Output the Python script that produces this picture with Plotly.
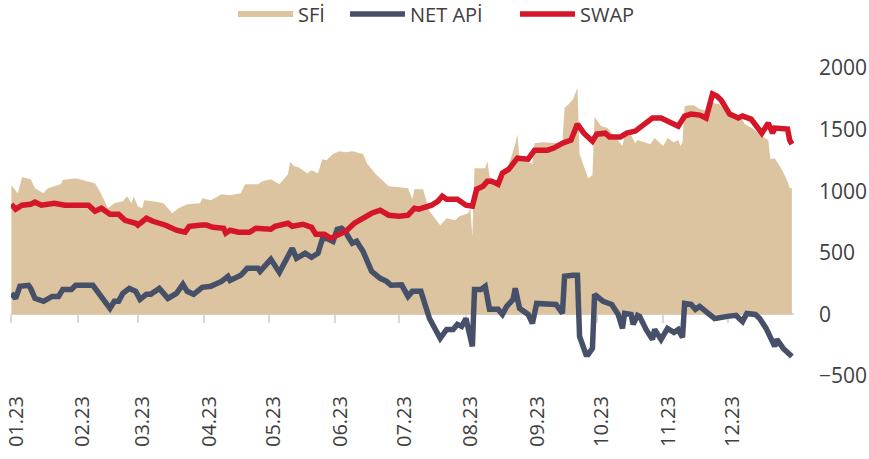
import plotly.graph_objects as go

sfi_dates = ["2023-01-01","2023-01-04","2023-01-06","2023-01-10","2023-01-12","2023-01-16","2023-01-18","2023-01-24","2023-01-25","2023-01-31",
             "2023-02-09","2023-02-12","2023-02-15","2023-02-18","2023-02-22","2023-02-24","2023-02-26","2023-02-27","2023-03-01","2023-03-03",
             "2023-03-04","2023-03-08","2023-03-13","2023-03-17","2023-03-20","2023-03-24","2023-03-30","2023-03-31","2023-04-04","2023-04-09",
             "2023-04-13","2023-04-18","2023-04-20","2023-04-26","2023-04-28","2023-05-02","2023-05-06","2023-05-10","2023-05-11","2023-05-13",
             "2023-05-15","2023-05-19","2023-05-21","2023-05-24","2023-05-26","2023-05-28","2023-05-31","2023-06-03","2023-06-06","2023-06-09",
             "2023-06-14","2023-06-16","2023-06-20","2023-06-26","2023-07-01","2023-07-05","2023-07-07","2023-07-08","2023-07-12","2023-07-15",
             "2023-07-20","2023-07-23","2023-07-27","2023-07-29","2023-08-02","2023-08-03","2023-08-04","2023-08-05","2023-08-10","2023-08-11",
             "2023-08-12","2023-08-15","2023-08-20","2023-08-24","2023-08-25","2023-08-26","2023-09-01","2023-09-02","2023-09-06","2023-09-13",
             "2023-09-15","2023-09-16","2023-09-18","2023-09-20","2023-09-22","2023-09-23","2023-09-27","2023-09-29","2023-09-30","2023-10-03",
             "2023-10-06","2023-10-10","2023-10-13","2023-10-14","2023-10-17","2023-10-19","2023-10-20","2023-10-26","2023-10-28","2023-11-01",
             "2023-11-03","2023-11-06","2023-11-08","2023-11-09","2023-11-10","2023-11-11","2023-11-15","2023-11-18","2023-11-21","2023-11-24",
             "2023-11-27","2023-12-01","2023-12-04","2023-12-08","2023-12-09","2023-12-13","2023-12-17","2023-12-20","2023-12-21","2023-12-23",
             "2023-12-26","2023-12-29","2023-12-30","2023-12-31"]
sfi_values = [1049,984,1114,1098,1024,984,1024,1057,1090,1106,
              1065,976,862,902,919,959,902,959,878,862,
              927,919,902,821,862,894,902,943,927,976,
              968,984,1057,1057,1081,1098,1057,1138,1236,1203,
              1195,1146,1171,1146,1260,1252,1301,1325,1317,1325,
              1301,1220,1138,1041,1033,1024,935,1016,1016,837,
              724,780,764,797,821,862,634,1187,1187,1244,
              1122,1065,1163,1382,1463,1268,1220,1390,1398,1390,
              1398,1675,1707,1748,1837,1301,1106,1130,1602,1529,
              1512,1431,1366,1447,1455,1390,1415,1382,1431,1366,
              1431,1398,1415,1366,1398,1691,1699,1667,1650,1715,
              1707,1634,1585,1577,1545,1504,1447,1415,1260,1268,
              1187,1081,1024,1024]

netapi_dates = ["2023-01-01","2023-01-03","2023-01-05","2023-01-09","2023-01-10","2023-01-12","2023-01-16","2023-01-20","2023-01-23","2023-01-25",
                "2023-01-29","2023-01-31","2023-02-08","2023-02-11","2023-02-14","2023-02-16","2023-02-18","2023-02-20","2023-02-22","2023-02-25",
                "2023-02-28","2023-03-02","2023-03-05","2023-03-07","2023-03-11","2023-03-15","2023-03-19","2023-03-22","2023-03-24","2023-03-27",
                "2023-03-31","2023-04-04","2023-04-09","2023-04-12","2023-04-13","2023-04-18","2023-04-21","2023-04-26","2023-04-27","2023-05-02",
                "2023-05-06","2023-05-10","2023-05-12","2023-05-14","2023-05-18","2023-05-21","2023-05-24","2023-05-26","2023-05-28","2023-05-31",
                "2023-06-02","2023-06-04","2023-06-06","2023-06-07","2023-06-09","2023-06-11","2023-06-14","2023-06-18","2023-06-22","2023-06-25",
                "2023-06-27","2023-07-02","2023-07-05","2023-07-07","2023-07-11","2023-07-15","2023-07-18","2023-07-20","2023-07-23","2023-07-26",
                "2023-07-28","2023-07-30","2023-08-01","2023-08-03","2023-08-04","2023-08-05","2023-08-08","2023-08-10","2023-08-12","2023-08-16",
                "2023-08-18","2023-08-20","2023-08-23","2023-08-24","2023-08-26","2023-08-30","2023-09-01","2023-09-03","2023-09-08","2023-09-12",
                "2023-09-15","2023-09-16","2023-09-20","2023-09-22","2023-09-23","2023-09-26","2023-09-27","2023-09-29","2023-09-30","2023-10-04",
                "2023-10-08","2023-10-11","2023-10-13","2023-10-14","2023-10-17","2023-10-18","2023-10-20","2023-10-21","2023-10-24","2023-10-27",
                "2023-10-28","2023-10-31","2023-11-03","2023-11-06","2023-11-08","2023-11-10","2023-11-11","2023-11-14","2023-11-16","2023-11-18",
                "2023-11-22","2023-11-25","2023-12-01","2023-12-05","2023-12-08","2023-12-10","2023-12-14","2023-12-16","2023-12-19","2023-12-22",
                "2023-12-23","2023-12-24","2023-12-27","2023-12-31"]
netapi_values = [171,130,228,236,211,130,106,146,146,203,
                 203,236,236,163,106,49,106,106,171,211,
                 187,122,163,163,211,130,171,244,187,163,
                 220,228,268,309,276,317,374,374,350,447,
                 341,488,537,455,496,463,496,610,618,593,
                 691,699,667,634,577,593,512,350,293,268,
                 236,240,146,187,187,-33,-138,-195,-122,-122,
                 -81,-98,-33,-220,-260,203,203,228,41,41,
                 0,65,122,211,49,0,-73,89,89,81,
                 8,309,317,317,-179,-325,-325,-276,163,106,
                 81,0,-114,8,0,-81,-8,-16,-122,-203,
                 -122,-203,-114,-146,-122,-187,89,81,41,65,
                 8,-33,-16,-8,-57,8,0,-33,-114,-220,
                 -260,-203,-276,-341]

swap_dates = ["2023-01-01","2023-01-03","2023-01-06","2023-01-10","2023-01-12","2023-01-15","2023-01-21","2023-01-26","2023-02-06","2023-02-09",
              "2023-02-12","2023-02-16","2023-02-20","2023-02-23","2023-02-28","2023-03-01","2023-03-05","2023-03-08","2023-03-14","2023-03-19",
              "2023-03-23","2023-03-25","2023-03-31","2023-04-02","2023-04-05","2023-04-10","2023-04-11","2023-04-13","2023-04-17","2023-04-22",
              "2023-04-25","2023-05-02","2023-05-04","2023-05-10","2023-05-12","2023-05-17","2023-05-21","2023-05-23","2023-05-27","2023-05-30",
              "2023-06-03","2023-06-06","2023-06-10","2023-06-15","2023-06-18","2023-06-22","2023-06-26","2023-07-01","2023-07-05","2023-07-08",
              "2023-07-10","2023-07-16","2023-07-19","2023-07-21","2023-07-23","2023-07-28","2023-08-01","2023-08-04","2023-08-06","2023-08-09",
              "2023-08-11","2023-08-13","2023-08-16","2023-08-18","2023-08-21","2023-08-25","2023-08-27","2023-08-30","2023-09-02","2023-09-08",
              "2023-09-11","2023-09-15","2023-09-19","2023-09-22","2023-09-25","2023-09-29","2023-10-01","2023-10-05","2023-10-07","2023-10-12",
              "2023-10-15","2023-10-19","2023-10-22","2023-10-27","2023-10-31","2023-11-08","2023-11-11","2023-11-14","2023-11-18","2023-11-21",
              "2023-11-24","2023-11-26","2023-11-28","2023-12-02","2023-12-06","2023-12-08","2023-12-12","2023-12-17","2023-12-20","2023-12-22",
              "2023-12-23","2023-12-29","2023-12-30","2023-12-31"]
swap_values = [894,854,886,894,911,886,902,886,886,837,
               862,813,813,764,740,724,780,756,724,683,
               667,715,725,725,707,699,659,683,667,667,
               699,691,715,740,715,732,707,650,650,618,
               650,675,740,797,821,846,805,797,805,862,
               854,886,919,959,935,935,886,878,1016,1041,
               1081,1081,1057,1146,1179,1268,1268,1260,1333,1333,
               1350,1390,1415,1545,1471,1406,1463,1471,1439,1439,
               1471,1488,1528,1594,1594,1528,1610,1626,1618,1594,
               1789,1772,1740,1626,1594,1610,1585,1471,1553,1471,
               1512,1504,1415,1382]

month_ticks = ["2023-01-01","2023-02-01","2023-03-01","2023-04-01","2023-05-01","2023-06-01",
               "2023-07-01","2023-08-01","2023-09-01","2023-10-01","2023-11-01","2023-12-01"]
month_labels = ["01.23","02.23","03.23","04.23","05.23","06.23",
                "07.23","08.23","09.23","10.23","11.23","12.23"]
y_ticks = [-500, 0, 500, 1000, 1500, 2000]

FONT = "Open Sans"
TXT = "#404040"

fig = go.Figure()
fig.add_trace(go.Scatter(x=sfi_dates, y=sfi_values, name="SFİ", mode="none",
                         fill="tozeroy", fillcolor="#DBC49F", xaxis="x", yaxis="y",
                         legendwidth=42))
fig.add_trace(go.Scatter(x=netapi_dates, y=netapi_values, name="NET APİ", mode="lines",
                         line=dict(color="#465069", width=5.5), xaxis="x2", yaxis="y",
                         legendwidth=100))
fig.add_trace(go.Scatter(x=swap_dates, y=swap_values, name="SWAP", mode="lines",
                         line=dict(color="#D51528", width=5.5), xaxis="x2", yaxis="y"))

xr = ["2022-12-31 20:00", "2024-01-01"]
fig.update_layout(
    width=869, height=459,
    margin=dict(l=11, r=75, t=68, b=83),
    paper_bgcolor="white", plot_bgcolor="white",
    font=dict(family=FONT, color=TXT),
    showlegend=True,
    legend=dict(orientation="h", xref="container", yref="container",
                x=233/869, xanchor="left", y=1 - 14/459, yanchor="middle",
                font=dict(size=20, color=TXT), itemwidth=55,
                traceorder="normal"),
    xaxis=dict(type="date", range=xr, tickvals=month_ticks, ticktext=month_labels,
               tickangle=-90, tickfont=dict(size=20, color=TXT),
               showgrid=False, showline=False, zeroline=False, ticks="",
               ticklabelstandoff=15, ticklabelshift=5, automargin=False,
               ticklabeloverflow="allow"),
    xaxis2=dict(type="date", range=xr, overlaying="x", anchor="free", position=0.2,
                tickvals=month_ticks, showticklabels=False, showgrid=False,
                showline=True, linecolor="#D9D9D9", linewidth=2,
                ticks="outside", ticklen=8, tickwidth=2, tickcolor="#D9D9D9",
                layer="below traces", automargin=False),
    yaxis=dict(side="right", range=[-500, 2000], tickvals=y_ticks,
               tickfont=dict(size=21, color=TXT), showgrid=False,
               zeroline=False, showline=False, ticks="", ticklabelstandoff=24,
               automargin=False),
)
fig.write_html("out.html", config={"displayModeBar": False},
               post_script="document.body.style.margin='0';")
